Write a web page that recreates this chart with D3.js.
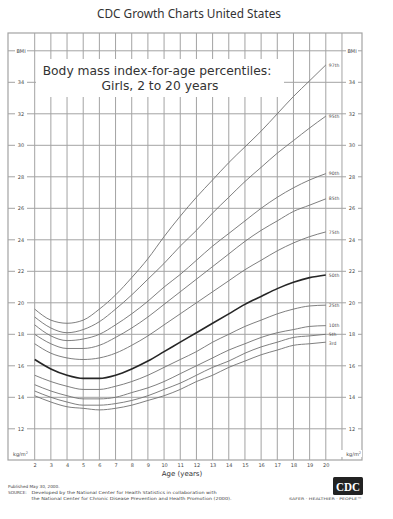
<!DOCTYPE html>
<html><head><meta charset="utf-8">
<script src="https://cdn.jsdelivr.net/npm/d3@7"></script>
<style>
html,body{margin:0;padding:0;background:#fff;}
svg{display:block;}
</style></head>
<body>
<script>
// ---- data ----
const ages = [2,3,4,5,6,7,8,9,10,11,12,13,14,15,16,17,18,19,20];
const p3  = [14.1,13.7,13.4,13.3,13.2,13.3,13.5,13.8,14.1,14.5,15.0,15.4,15.9,16.3,16.7,17.0,17.3,17.4,17.5];
const p5  = [14.4,14.0,13.7,13.5,13.5,13.6,13.8,14.1,14.5,14.9,15.4,15.9,16.3,16.8,17.2,17.5,17.8,17.9,18.0];
const p10 = [14.8,14.4,14.1,13.9,13.9,14.0,14.3,14.6,15.0,15.5,16.0,16.5,17.0,17.4,17.8,18.1,18.3,18.5,18.55];
const p25 = [15.4,15.0,14.7,14.5,14.5,14.7,15.0,15.4,15.9,16.4,16.9,17.5,18.0,18.5,18.9,19.3,19.6,19.8,19.85];
const p50 = [16.4,15.8,15.4,15.2,15.2,15.4,15.8,16.3,16.9,17.5,18.1,18.7,19.3,19.9,20.4,20.9,21.3,21.6,21.77];
const p75 = [17.4,16.8,16.5,16.4,16.5,16.8,17.3,17.9,18.6,19.3,20.0,20.7,21.4,22.1,22.7,23.3,23.8,24.2,24.5];
const p85 = [18.0,17.4,17.1,17.1,17.3,17.8,18.4,19.1,19.9,20.7,21.5,22.3,23.1,23.9,24.6,25.2,25.8,26.2,26.6];
const p90 = [18.6,17.9,17.6,17.7,18.0,18.6,19.3,20.1,21.0,21.8,22.7,23.6,24.4,25.2,26.0,26.7,27.3,27.8,28.2];
const p95 = [19.1,18.4,18.1,18.3,18.8,19.6,20.5,21.5,22.5,23.6,24.6,25.7,26.7,27.7,28.6,29.5,30.3,31.1,31.85];
const p97 = [19.6,18.9,18.7,18.9,19.6,20.5,21.6,22.8,24.2,25.5,26.7,27.8,28.9,29.9,30.9,32.0,33.1,34.1,35.1];
const seriesNames = ["3rd","5th","10th","25th","50th","75th","85th","90th","95th","97th"];
const seriesValues = [p3,p5,p10,p25,p50,p75,p85,p90,p95,p97];
const labelNudge = [1.2,0,0,0,0,0,0,0,0,0];
const bmiTicks = [12,14,16,18,20,22,24,26,28,30,32,34];
const ageTicks = [2,3,4,5,6,7,8,9,10,11,12,13,14,15,16,17,18,19,20];
const gridAges = [2,3,4,5,6,7,8,9,10,11,12,13,14,15,16,17,18,19,20,21];
const gridBmi = [12,14,16,18,20,22,24,26,28,30,32,34,36];

// ---- layout ----
const W = 393, H = 519;
const frame = {x0: 8, x1: 362, y0: 33, y1: 460};
const x = d3.scaleLinear().domain([2,20]).range([34.7,325.8]);
const y = d3.scaleLinear().domain([10,36]).range([460.3,50.8]);
const gridCol = "#a3a3a3", txtCol = "#4a4a4a";

const svg = d3.select("body").append("svg").attr("width",W).attr("height",H);

svg.append("text").attr("x",189).attr("y",18).attr("text-anchor","middle")
  .attr("font-family","Noto Sans, Open Sans, sans-serif").attr("font-size",11.8).attr("fill","#333")
  .text("CDC Growth Charts United States");

const g = svg.append("g");

// vertical grid
g.selectAll("line.v").data(gridAges).join("line").attr("class","v")
  .attr("x1",d=>x(d)).attr("x2",d=>x(d)).attr("y1",frame.y0).attr("y2",frame.y1)
  .attr("stroke",gridCol).attr("stroke-width",1);
// horizontal grid
g.selectAll("line.h").data(gridBmi).join("line").attr("class","h")
  .attr("x1",frame.x0).attr("x2",frame.x1).attr("y1",d=>y(d)).attr("y2",d=>y(d))
  .attr("stroke",gridCol).attr("stroke-width",1);

// frame
g.append("rect").attr("x",frame.x0).attr("y",frame.y0)
  .attr("width",frame.x1-frame.x0).attr("height",frame.y1-frame.y0)
  .attr("fill","none").attr("stroke",gridCol).attr("stroke-width",1.2);

// title box
g.append("rect").attr("x",36).attr("y",59).attr("width",248).attr("height",38).attr("fill","#fff");
g.append("text").attr("x",157).attr("y",75).attr("text-anchor","middle")
  .attr("font-family","DejaVu Sans, sans-serif").attr("font-size",12.3).attr("fill","#333")
  .text("Body mass index-for-age percentiles:");
g.append("text").attr("x",160).attr("y",90).attr("text-anchor","middle")
  .attr("font-family","DejaVu Sans, sans-serif").attr("font-size",12.3).attr("fill","#333")
  .text("Girls, 2 to 20 years");

// y tick labels (both sides) with white gaps
const yLabels = bmiTicks.map(v=>({v, t:String(v)})).concat([{v:36,t:"BMI"}]);
[21, 352].forEach(cx=>{
  const lg = g.append("g");
  lg.selectAll("rect").data(yLabels).join("rect")
    .attr("x",cx-6).attr("y",d=>y(d.v)-3).attr("width",12).attr("height",6).attr("fill","#fff");
  lg.selectAll("text").data(yLabels).join("text")
    .attr("x",cx).attr("y",d=>y(d.v)).attr("dy","0.35em").attr("text-anchor","middle")
    .attr("font-family","DejaVu Sans, sans-serif").attr("font-size",5).attr("fill",txtCol)
    .text(d=>d.t);
});

// kg/m2 labels
[[13,"start"],[361,"end"]].forEach(([lx,anc])=>{
  g.append("rect").attr("x",anc==="start"?lx-1:lx-20).attr("y",450).attr("width",21).attr("height",7).attr("fill","#fff");
  g.append("text").attr("x",lx).attr("y",455.5).attr("text-anchor",anc)
    .attr("font-family","DejaVu Sans, sans-serif").attr("font-size",5).attr("fill",txtCol)
    .html("kg/m<tspan baseline-shift='super' font-size='3.5'>2</tspan>");
});

// curves
const line = d3.line().x(d=>x(d[0])).y(d=>y(d[1])).curve(d3.curveMonotoneX);
seriesValues.forEach((vals,i)=>{
  const pts = ages.map((a,j)=>[a,vals[j]]);
  const is50 = seriesNames[i]==="50th";
  g.append("path").attr("d",line(pts)).attr("fill","none")
    .attr("stroke",is50?"#262626":"#707070").attr("stroke-width",is50?1.6:0.9);
  g.append("text").attr("x",x(20)+3).attr("y",y(vals[vals.length-1])+labelNudge[i])
    .attr("dy","0.35em").attr("font-family","DejaVu Sans, sans-serif").attr("font-size",4.6)
    .attr("fill",txtCol).text(seriesNames[i]);
});

// x axis labels
const xAxis = d3.axisBottom(x).tickValues(ageTicks).tickSize(0).tickPadding(0).tickFormat(d3.format("d"));
const ax = svg.append("g").attr("transform","translate(0,463)").call(xAxis);
ax.select(".domain").remove();
ax.selectAll("text").attr("font-family","DejaVu Sans, sans-serif").attr("font-size",5).attr("fill",txtCol);

svg.append("text").attr("x",182).attr("y",476).attr("text-anchor","middle")
  .attr("font-family","DejaVu Sans, sans-serif").attr("font-size",7).attr("fill","#333")
  .text("Age (years)");

// footer
const ff = "DejaVu Sans, sans-serif";
svg.append("text").attr("x",8).attr("y",488).attr("font-family",ff).attr("font-size",4.2).attr("fill","#444")
  .text("Published May 30, 2000.");
svg.append("text").attr("x",8).attr("y",494).attr("font-family",ff).attr("font-size",4.2).attr("fill","#444")
  .text("SOURCE:");
svg.append("text").attr("x",31.5).attr("y",494).attr("font-family",ff).attr("font-size",4.2).attr("fill","#444")
  .attr("textLength",185).attr("lengthAdjust","spacingAndGlyphs")
  .text("Developed by the National Center for Health Statistics in collaboration with");
svg.append("text").attr("x",31.5).attr("y",499.5).attr("font-family",ff).attr("font-size",4.2).attr("fill","#444")
  .attr("textLength",200).attr("lengthAdjust","spacingAndGlyphs")
  .text("the National Center for Chronic Disease Prevention and Health Promotion (2000).");

// CDC logo
svg.append("rect").attr("x",333).attr("y",477).attr("width",30).attr("height",18).attr("rx",1.5).attr("fill","#222");
svg.append("text").attr("x",348).attr("y",491).attr("text-anchor","middle")
  .attr("font-family","Liberation Serif, serif").attr("font-weight","bold").attr("font-size",13)
  .attr("fill","#fff").attr("textLength",24).attr("lengthAdjust","spacingAndGlyphs").text("CDC");
svg.append("text").attr("x",362).attr("y",500).attr("text-anchor","end")
  .attr("font-family",ff).attr("font-size",3.4).attr("fill","#444")
  .attr("textLength",73).attr("lengthAdjust","spacingAndGlyphs")
  .text("SAFER · HEALTHIER · PEOPLE™");
</script>
</body></html>
